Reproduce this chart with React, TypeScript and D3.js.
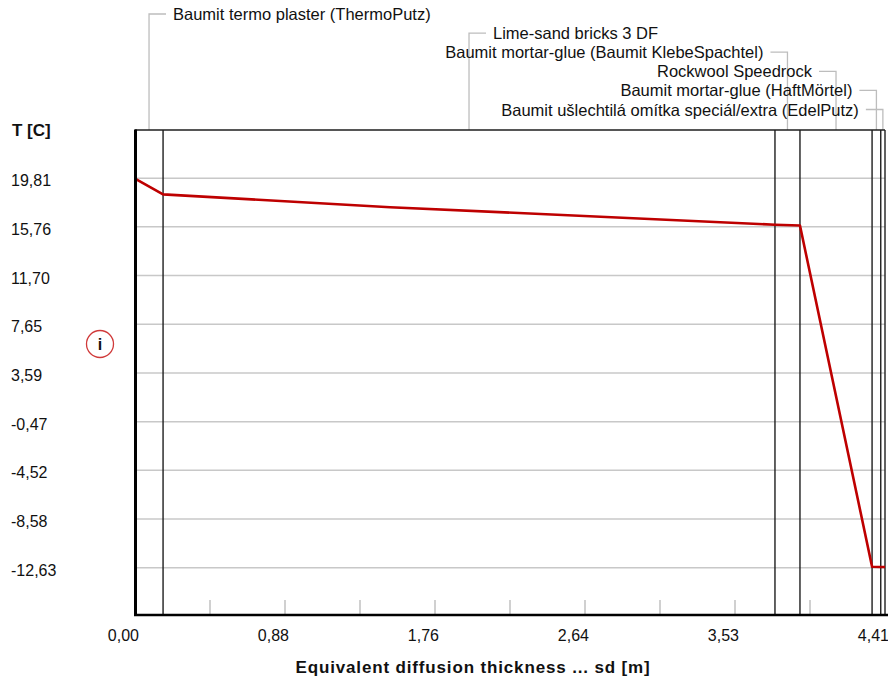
import React from 'react';
import * as d3 from 'd3';

// ---- data ----
const layerNames = [
  'Baumit termo plaster (ThermoPutz)',
  'Lime-sand bricks 3 DF',
  'Baumit mortar-glue (Baumit KlebeSpachtel)',
  'Rockwool Speedrock',
  'Baumit mortar-glue (HaftMörtel)',
  'Baumit ušlechtilá omítka speciál/extra (EdelPutz)',
];
const layerBounds = [0, 0.165, 3.763, 3.91, 4.334, 4.385, 4.41];
const profileSd = [0, 0.165, 1.5, 3.763, 3.91, 4.334, 4.385, 4.41];
const profileT = [19.78, 18.47, 17.4, 15.94, 15.87, -12.55, -12.57, -12.58];
const yTicks = [19.81, 15.76, 11.7, 7.65, 3.59, -0.47, -4.52, -8.58, -12.63];
const xTickValues = [0, 0.882, 1.764, 2.646, 3.528, 4.41];
const xTickLabels = ['0,00', '0,88', '1,76', '2,64', '3,53', '4,41'];
const xMinorTicks = [0.441, 0.882, 1.323, 1.764, 2.205, 2.646, 3.087, 3.528, 3.969];
const yDomain = [-16.49, 23.83];
const xDomain = [0, 4.41];

const FONT = "'Liberation Sans', Arial, sans-serif";

export default function App() {
  const W = 888, H = 681;
  const left = 135, right = 885, top = 130, bottom = 614;
  const x = d3.scaleLinear().domain(xDomain).range([left, right]);
  const y = d3.scaleLinear().domain(yDomain).range([bottom, top]);
  const pts: [number, number][] = profileSd.map((s, i) => [s, profileT[i]]);
  const line = d3.line<[number, number]>().x(d => x(d[0])).y(d => y(d[1]));
  const fmt = (v: number) => v.toFixed(2).replace('.', ',');

  return (
    <svg width={W} height={H} style={{ position: 'absolute', left: 0, top: 0, background: '#fff' }}
      fontFamily={FONT}>
      <rect x={0} y={0} width={W} height={H} fill="#fff" />
      {/* gridlines */}
      {yTicks.map((t, i) => (
        <line key={'g' + i} x1={left} x2={right} y1={y(t)} y2={y(t)} stroke="#c8c8c8" strokeWidth={1.5} />
      ))}
      {/* minor ticks on x axis */}
      {xMinorTicks.map((t, i) => (
        <line key={'m' + i} x1={x(t)} x2={x(t)} y1={bottom - 14} y2={bottom} stroke="#c0c0c0" strokeWidth={1.5} />
      ))}
      {/* layer leaders and labels */}
      {layerNames.map((name, i) => {
        const cx = x((layerBounds[i] + layerBounds[i + 1]) / 2);
        const ry = 14 + 19.1 * i;
        const toRight = cx < (left + right) / 2;
        return (
          <g key={'l' + i}>
            <path d={toRight
              ? `M${cx},${top} V${ry} H${cx + 17}`
              : `M${cx},${top} V${ry} H${cx - 17}`}
              fill="none" stroke="#bdbdbd" strokeWidth={1.3} />
            <text x={toRight ? cx + 24 : cx - 24} y={ry + 6} fontSize={16.5}
              textAnchor={toRight ? 'start' : 'end'} fill="#111">{name}</text>
          </g>
        );
      })}
      {/* layer boundaries */}
      {layerBounds.slice(1).map((b, i) => (
        <line key={'b' + i} x1={x(b)} x2={x(b)} y1={top} y2={bottom} stroke="#1e1e1e" strokeWidth={1.4} />
      ))}
      {/* temperature profile */}
      <path d={line(pts) || ''} fill="none" stroke="#be0000" strokeWidth={2.6} strokeLinejoin="round" />
      {/* borders */}
      <line x1={left} x2={right} y1={top} y2={top} stroke="#1e1e1e" strokeWidth={1.3} />
      <line x1={left + 0.5} x2={left + 0.5} y1={top - 0.5} y2={bottom + 2} stroke="#000" strokeWidth={3} />
      <line x1={left - 1} x2={W} y1={bottom + 1} y2={bottom + 1} stroke="#000" strokeWidth={2.6} />
      {/* y labels */}
      <text x={12} y={136} fontSize={17} fontWeight="bold" fill="#111">T  [C]</text>
      {yTicks.map((t, i) => (
        <text key={'yl' + i} x={11} y={y(t) + 8} fontSize={16} fill="#111">{fmt(t)}</text>
      ))}
      {/* x labels */}
      {xTickValues.map((t, i) => (
        <text key={'xl' + i} x={x(t) + 4} y={641} fontSize={16} textAnchor="end" fill="#111">{xTickLabels[i]}</text>
      ))}
      <text x={473} y={673} fontSize={17} fontWeight="bold" textAnchor="middle" letterSpacing={0.85} fill="#111">
        Equivalent diffusion thickness ... sd [m]
      </text>
      {/* info icon */}
      <circle cx={100} cy={344} r={13.5} fill="none" stroke="#d03a3a" strokeWidth={1.3} />
      <text x={100} y={350} fontSize={16} fontWeight="bold" textAnchor="middle" fill="#111">i</text>
    </svg>
  );
}
